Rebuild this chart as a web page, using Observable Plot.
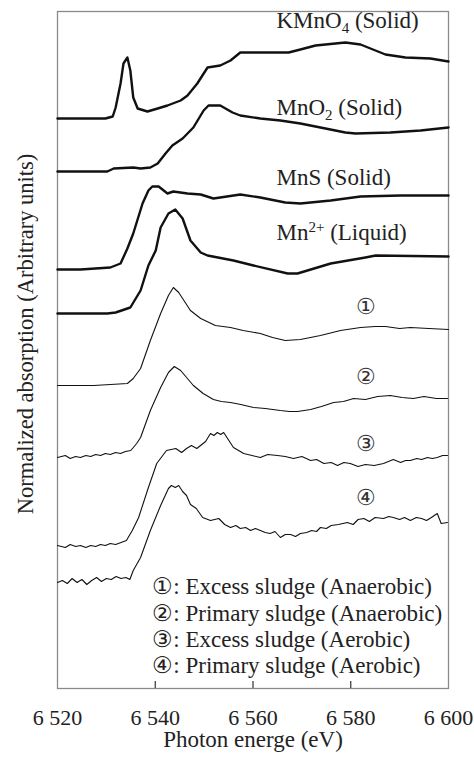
<!DOCTYPE html>
<html>
<head>
<meta charset="utf-8">
<script src="https://cdn.jsdelivr.net/npm/d3@7"></script>
<script src="https://cdn.jsdelivr.net/npm/@observablehq/plot@0.6"></script>
<style>
  html, body { margin: 0; padding: 0; background: #fff; overflow: hidden; }
</style>
</head>
<body>
<div id="chart"></div>
<script>
// ---- Data (photon energy in eV, normalized absorption with stacking offsets, arbitrary units) ----
const energyTicks = [6520, 6540, 6560, 6580, 6600];
const xTitle = "Photon energe (eV)";
const yTitle = "Normalized absorption (Arbitrary units)";

const kmno4E = [6520, 6529.8, 6531.3, 6531.9, 6532.9, 6533.5, 6534.3, 6534.9, 6535.5, 6536.4, 6538.4, 6540.5, 6542.5, 6545.2, 6546.6, 6548.6, 6550.7, 6553.3, 6555.4, 6557.4, 6561.5, 6567.3, 6569.7, 6572.8, 6578.9, 6582.0, 6587.1, 6591.2, 6596.3, 6600];
const kmno4A = [570, 570, 572, 581, 605, 625, 631, 618, 591, 580, 577, 580, 583, 588, 593, 605, 621, 623, 628, 636, 636, 636, 639, 643, 646, 644, 634, 631, 630, 627];

const mno2E = [6520, 6530.2, 6531.5, 6535.5, 6537.0, 6539.0, 6540.5, 6542.1, 6543.5, 6545.6, 6547.8, 6549.9, 6550.9, 6553.3, 6555.8, 6557.4, 6561.5, 6565.6, 6569.7, 6573.8, 6578.9, 6581.0, 6588.1, 6594.3, 6600];
const mno2A = [517, 517, 520, 521, 520, 521, 525, 535, 543, 550, 561, 578, 583, 583, 576, 573, 570, 568, 565, 561, 556, 555, 556, 558, 561];

const mnsE = [6520, 6524.7, 6530.8, 6532.9, 6534.3, 6535.5, 6537.4, 6538.6, 6539.4, 6540.7, 6542.5, 6543.7, 6546.6, 6549.3, 6551.9, 6553.3, 6557.4, 6561.5, 6566.6, 6569.7, 6575.9, 6582.0, 6590.2, 6600];
const mnsA = [419, 419, 421, 425, 440, 455, 485, 498, 502, 502, 495, 497, 495, 494, 490, 491, 494, 491, 486, 485, 488, 492, 493, 493];

const mn2E = [6520, 6530.2, 6531.9, 6534.9, 6537.0, 6538.6, 6540.1, 6541.1, 6542.7, 6544.1, 6545.6, 6547.2, 6549.3, 6550.7, 6556.0, 6560.1, 6567.1, 6569.1, 6575.9, 6583.0, 6585.1, 6600];
const mn2A = [375, 375, 376, 381, 398, 423, 438, 461, 475, 479, 470, 448, 436, 433, 428, 423, 415, 415, 425, 431, 433, 432];

const s1E = [6520, 6527.4, 6534.3, 6535.5, 6537.0, 6539.0, 6541.1, 6542.7, 6543.7, 6544.8, 6547.2, 6549.3, 6552.3, 6555.4, 6558.0, 6561.5, 6564.0, 6566.6, 6569.7, 6573.8, 6577.9, 6582.0, 6585.0, 6587.1, 6590.0, 6592.2, 6596.0, 6600];
const s1A = [303, 303, 305, 310, 320, 348, 375, 393, 401, 396, 378, 370, 363, 361, 358, 355, 351, 348, 349, 353, 358, 361, 362, 362, 360, 361, 360, 359];

const s2E = [6520, 6521.6, 6522.6, 6523.7, 6524.7, 6525.8, 6526.8, 6527.8, 6528.8, 6529.8, 6530.8, 6531.9, 6532.9, 6533.9, 6535.0, 6536.2, 6537.0, 6539.0, 6541.1, 6542.7, 6543.9, 6545.2, 6547.8, 6549.8, 6551.9, 6553.5, 6555.4, 6557.5, 6560.1, 6562.5, 6565.6, 6567.5, 6569.1, 6571.8, 6574.0, 6576.5, 6578.5, 6580.6, 6583.0, 6585.5, 6588.1, 6590.5, 6592.8, 6595.0, 6597.5, 6599.8];
const s2A = [231, 233, 230, 232, 231, 233, 232, 234, 233, 235, 234, 236, 235, 237, 238, 245, 251, 278, 301, 316, 322, 318, 303, 295, 289, 287, 286, 284, 281, 280, 278, 277, 277, 279, 282, 286, 287, 290, 289, 292, 293, 291, 290, 292, 290, 290];

const s3E = [6520, 6521.6, 6522.6, 6523.7, 6524.7, 6525.8, 6526.8, 6527.8, 6528.8, 6529.8, 6530.8, 6531.9, 6533.0, 6534.1, 6535.3, 6536.6, 6538.6, 6540.3, 6542.3, 6544.2, 6545.4, 6546.4, 6547.4, 6548.5, 6550.3, 6551.3, 6552.0, 6552.7, 6553.4, 6554.0, 6556.0, 6558.1, 6559.8, 6561.5, 6563.0, 6565.0, 6566.6, 6568.3, 6570.0, 6571.8, 6573.0, 6574.5, 6576.0, 6577.3, 6578.6, 6579.9, 6581.5, 6583.0, 6584.8, 6586.7, 6588.7, 6590.2, 6591.2, 6592.2, 6593.5, 6594.5, 6595.7, 6596.7, 6597.7, 6598.8, 6599.8];
const s3A = [143, 141, 144, 142, 143, 141, 143, 142, 144, 143, 145, 144, 146, 148, 158, 171, 201, 225, 238, 240, 236, 240, 243, 240, 247, 255, 253, 256, 254, 256, 241, 235, 233, 231, 234, 233, 232, 230, 232, 228, 229, 225, 226, 223, 226, 225, 222, 224, 223, 225, 229, 226, 228, 228, 230, 229, 231, 230, 231, 233, 233];

const s4E = [6520, 6521.0, 6522.0, 6523.0, 6524.0, 6525.0, 6526.0, 6527.0, 6528.0, 6529.0, 6530.0, 6531.0, 6532.0, 6533.0, 6534.0, 6534.8, 6535.5, 6537.0, 6539.0, 6541.1, 6542.7, 6543.3, 6544.1, 6544.8, 6545.6, 6546.4, 6547.2, 6548.4, 6549.7, 6551.3, 6553.0, 6554.2, 6555.4, 6556.5, 6557.4, 6558.5, 6559.5, 6560.5, 6561.5, 6562.5, 6563.5, 6564.5, 6565.6, 6566.6, 6567.7, 6568.7, 6569.7, 6571.0, 6572.0, 6573.0, 6573.8, 6575.0, 6576.0, 6577.5, 6579.3, 6580.5, 6581.5, 6582.7, 6583.8, 6585.0, 6586.7, 6587.8, 6588.7, 6590.0, 6591.0, 6592.2, 6593.4, 6594.5, 6595.5, 6596.5, 6597.7, 6598.5, 6599.8];
const s4A = [106, 108, 105, 110, 106, 109, 104, 108, 111, 107, 110, 109, 112, 110, 111, 109, 118, 131, 158, 183, 200, 203, 201, 203, 197, 193, 184, 180, 171, 168, 170, 164, 161, 163, 160, 161, 158, 160, 158, 156, 155, 157, 151, 154, 154, 152, 155, 156, 158, 157, 161, 160, 163, 164, 166, 164, 169, 170, 167, 171, 170, 172, 171, 169, 171, 168, 171, 170, 168, 171, 175, 165, 166];

const seriesNames = ["KMnO4 (Solid)", "MnO2 (Solid)", "MnS (Solid)", "Mn2+ (Liquid)", "1", "2", "3", "4"];
const seriesE = [kmno4E, mno2E, mnsE, mn2E, s1E, s2E, s3E, s4E];
const seriesA = [kmno4A, mno2A, mnsA, mn2A, s1A, s2A, s3A, s4A];
const referenceSeries = ["KMnO4 (Solid)", "MnO2 (Solid)", "MnS (Solid)", "Mn2+ (Liquid)"];

// curve labels (reference compounds: left-aligned; samples: centred circled numbers)
const compoundLabels = ["KMnO\u2084 (Solid)", "MnO\u2082 (Solid)", "MnS (Solid)", "Mn\u00B2\u207A (Liquid)"];
const compoundLabelE = [6564.8, 6564.8, 6564.8, 6564.8];
const compoundLabelA = [668, 581, 511, 456];
const sampleLabels = ["\u2460", "\u2461", "\u2462", "\u2463"];
const sampleLabelE = [6583.2, 6583.2, 6583.2, 6583.2];
const sampleLabelA = [382, 312, 245, 191];

// legend
const legendLines = [
  "\u2460: Excess sludge (Anaerobic)",
  "\u2461: Primary sludge (Anaerobic)",
  "\u2462: Excess sludge (Aerobic)",
  "\u2463: Primary sludge (Aerobic)"
];
const legendE = [6539.4, 6539.4, 6539.4, 6539.4];
const legendA = [102, 75, 49, 23];

// ---- Build tables ----
const rows = [];
seriesNames.forEach((name, i) => {
  seriesE[i].forEach((e, j) => rows.push({series: name, energy: e, absorption: seriesA[i][j]}));
});
const thickRows = rows.filter(d => referenceSeries.includes(d.series));
const thinRows = rows.filter(d => !referenceSeries.includes(d.series));
const compoundRows = compoundLabels.map((t, i) => ({text: t, energy: compoundLabelE[i], absorption: compoundLabelA[i]}));
const sampleRows = sampleLabels.map((t, i) => ({text: t, energy: sampleLabelE[i], absorption: sampleLabelA[i]}));
const legendRows = legendLines.map((t, i) => ({text: t, energy: legendE[i], absorption: legendA[i]}));

const fmt = d => `${Math.floor(d / 1000)} ${String(d % 1000).padStart(3, "0")}`;

const chart = Plot.plot({
  width: 474,
  height: 757,
  marginTop: 11,
  marginBottom: 69,
  marginLeft: 57,
  marginRight: 26,
  style: {fontFamily: "'Liberation Serif', 'Times New Roman', serif", fontSize: "22px", color: "#222", background: "#fff"},
  x: {domain: [6520, 6600]},
  y: {domain: [0, 677], axis: null},
  marks: [
    Plot.frame({stroke: "#8a8a8a", strokeWidth: 1.3}),
    Plot.axisX({ticks: energyTicks, tickSize: 0, tickPadding: 21, tickFormat: fmt, label: null, fontSize: 22}),
    Plot.tickX(energyTicks.slice(1, -1), {x: d => d, insetTop: 670, stroke: "#333", strokeWidth: 1.2}),
    Plot.line(thickRows, {x: "energy", y: "absorption", z: "series", stroke: "#111", strokeWidth: 2.4}),
    Plot.line(thinRows, {x: "energy", y: "absorption", z: "series", stroke: "#111", strokeWidth: 1.1}),
    Plot.text(compoundRows, {x: "energy", y: "absorption", text: "text", textAnchor: "start", fill: "#222", fontSize: 23}),
    Plot.text(sampleRows, {x: "energy", y: "absorption", text: "text", textAnchor: "middle", fill: "#333", fontSize: 22}),
    Plot.text(legendRows, {x: "energy", y: "absorption", text: "text", textAnchor: "start", fill: "#222", fontSize: 23}),
    Plot.text([xTitle], {frameAnchor: "bottom", dy: 58, textAnchor: "middle", fill: "#222", fontSize: 23}),
    Plot.text([yTitle], {frameAnchor: "left", dx: -32, dy: -16, rotate: -90, textAnchor: "middle", fill: "#222", fontSize: 22.5})
  ]
});
document.getElementById("chart").appendChild(chart);

// sub/superscripts as real text tspans
const scripts = {
  "KMnO\u2084 (Solid)": ["KMnO", "4", " (Solid)", 5],
  "MnO\u2082 (Solid)": ["MnO", "2", " (Solid)", 5],
  "Mn\u00B2\u207A (Liquid)": ["Mn", "2+", " (Liquid)", -8]
};
d3.select(chart).selectAll("text").each(function() {
  const t = this.textContent;
  if (scripts[t] && this.children.length === 0) {
    const [a, b, c, sh] = scripts[t];
    const el = d3.select(this);
    el.text("");
    el.append("tspan").text(a);
    el.append("tspan").attr("dy", sh).attr("font-size", 15).text(b);
    el.append("tspan").attr("dy", -sh).text(c);
  }
});
</script>
</body>
</html>
